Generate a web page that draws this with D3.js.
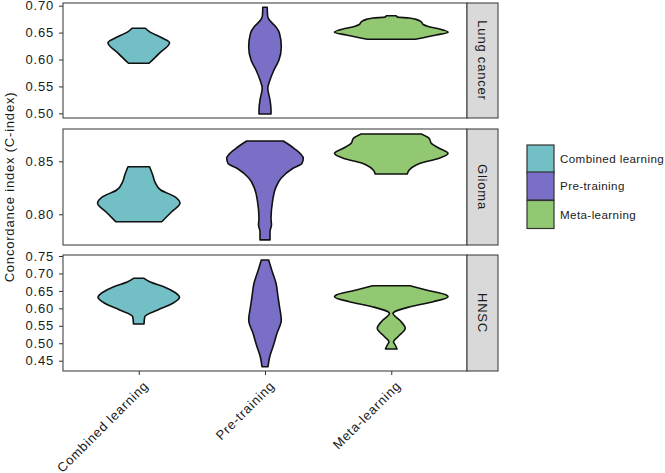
<!DOCTYPE html>
<html>
<head>
<meta charset="utf-8">
<script src="https://cdn.jsdelivr.net/npm/d3@7"></script>
<style>
  body { margin: 0; background: #fff; }
  svg text { font-family: "Liberation Sans", Arial, Helvetica, sans-serif; fill: #1a1a1a; }
</style>
</head>
<body>
<svg id="chart" width="665" height="473"></svg>
<script>
// ---------- data ----------
const methods = ["Combined learning", "Pre-training", "Meta-learning"];
const colors = ["#73bfc6", "#7a6fc6", "#93c872"];
const cancers = ["Lung cancer", "Glioma", "HNSC"];

const lungTicks = [0.50, 0.55, 0.60, 0.65, 0.70];
const gliomaTicks = [0.80, 0.85];
const hnscTicks = [0.45, 0.50, 0.55, 0.60, 0.65, 0.70, 0.75];

// violin outlines: [C-index value, relative half-width (1 = widest violin)]
const lungCombined = [[0.658,0.118],[0.6517,0.188],[0.6394,0.423],[0.6312,0.542],[0.6115,0.361],[0.593,0.181]];
const lungPre = [[0.697,0.039],[0.6827,0.044],[0.676,0.062],[0.668,0.123],[0.661,0.19],[0.6487,0.255],[0.6238,0.287],[0.599,0.246],[0.5805,0.158],[0.5619,0.088],[0.5465,0.049],[0.5247,0.088],[0.5061,0.106],[0.4987,0.106]];
const lungMeta = [[0.6814,0.088],[0.679,0.106],[0.677,0.317],[0.675,0.423],[0.670,0.528],[0.665,0.563],[0.6615,0.651],[0.658,0.792],[0.6506,1.0],[0.6455,0.792],[0.6375,0.423]];

const gliomaCombined = [[0.8449,0.19],[0.8371,0.246],[0.8308,0.282],[0.8229,0.387],[0.8166,0.634],[0.8104,0.725],[0.8022,0.574],[0.793,0.405]];
const gliomaPre = [[0.8692,0.322],[0.8623,0.511],[0.8528,0.674],[0.8481,0.651],[0.8434,0.493],[0.834,0.282],[0.8245,0.185],[0.8119,0.132],[0.7962,0.106],[0.7899,0.114],[0.7836,0.088],[0.7758,0.088]];
const gliomaMeta = [[0.8758,0.528],[0.8716,0.669],[0.867,0.704],[0.8623,0.845],[0.8575,1.0],[0.8528,0.845],[0.8481,0.511],[0.8465,0.44],[0.8418,0.317],[0.838,0.282]];

const hnscCombined = [[0.6861,0.093],[0.6764,0.194],[0.662,0.44],[0.6477,0.616],[0.6317,0.718],[0.6145,0.599],[0.5953,0.335],[0.5761,0.106],[0.5552,0.093]];
const hnscPre = [[0.7385,0.065],[0.7099,0.118],[0.6718,0.194],[0.6334,0.229],[0.6047,0.255],[0.5666,0.287],[0.5285,0.211],[0.4901,0.141],[0.4615,0.083],[0.4328,0.053]];
const hnscMeta = [[0.6649,0.329],[0.6526,0.616],[0.6383,0.968],[0.6334,1.0],[0.6191,0.739],[0.6047,0.335],[0.5904,0.058],[0.5858,0.03],[0.5666,0.146],[0.5428,0.246],[0.5188,0.118],[0.5044,0.04],[0.495,0.07],[0.4835,0.102]];

const lungDomain = [0.4913, 0.705];
const gliomaDomain = [0.771, 0.8805];
const hnscDomain = [0.4205, 0.7529];

const panelsData = [
  { name: cancers[0], domain: lungDomain, ticks: lungTicks, violins: [lungCombined, lungPre, lungMeta] },
  { name: cancers[1], domain: gliomaDomain, ticks: gliomaTicks, violins: [gliomaCombined, gliomaPre, gliomaMeta] },
  { name: cancers[2], domain: hnscDomain, ticks: hnscTicks, violins: [hnscCombined, hnscPre, hnscMeta] }
];

// ---------- layout ----------
const svg = d3.select("#chart");
const left = 63, right = 467, stripW = 31;
const panelBoxes = [[3, 118], [129, 245], [255, 371]];
const LS = "0.8px";

const x = d3.scalePoint().domain(methods).range([left, right]).padding(0.6);
const step = x.step();
const w = d3.scaleLinear().domain([0, 1]).range([0, 0.45 * step]);

panelsData.forEach((p, i) => {
  const [top, bottom] = panelBoxes[i];
  const y = d3.scaleLinear().domain(p.domain).range([bottom, top]);
  const g = svg.append("g");

  // violins
  p.violins.forEach((pts, j) => {
    const cx = x(methods[j]);
    const area = d3.area()
      .y(d => y(d[0]))
      .x0(d => cx - w(d[1]))
      .x1(d => cx + w(d[1]))
      .curve(d3.curveMonotoneY);
    g.append("path")
      .attr("d", area(pts))
      .attr("fill", colors[j])
      .attr("stroke", "#111")
      .attr("stroke-width", 1.6)
      .attr("stroke-linejoin", "round");
  });

  // panel border
  g.append("rect")
    .attr("x", left).attr("y", top)
    .attr("width", right - left).attr("height", bottom - top)
    .attr("fill", "none").attr("stroke", "#333").attr("stroke-width", 1);

  // y axis
  const yAxis = d3.axisLeft(y).tickValues(p.ticks).tickFormat(d3.format(".2f")).tickSize(4).tickPadding(5);
  const ag = g.append("g").attr("transform", `translate(${left},0)`).call(yAxis);
  ag.select(".domain").remove();
  ag.selectAll(".tick line").attr("stroke", "#333");
  ag.selectAll(".tick text")
    .attr("font-size", 13).attr("fill", "#1a1a1a")
    .style("font-family", '"Liberation Sans", Arial, sans-serif')
    .style("letter-spacing", LS);

  // strip
  g.append("rect")
    .attr("x", right).attr("y", top)
    .attr("width", stripW).attr("height", bottom - top)
    .attr("fill", "#d9d9d9").attr("stroke", "#333").attr("stroke-width", 1);
  g.append("text")
    .attr("transform", `translate(${right + stripW / 2},${(top + bottom) / 2}) rotate(90)`)
    .attr("text-anchor", "middle").attr("dy", "0.35em")
    .attr("font-size", 13).style("letter-spacing", LS)
    .text(p.name);

  // bottom axis on last panel
  if (i === panelsData.length - 1) {
    const xAxis = d3.axisBottom(x).tickSize(4).tickFormat("");
    const xg = g.append("g").attr("transform", `translate(0,${bottom})`).call(xAxis);
    xg.select(".domain").remove();
    xg.selectAll(".tick line").attr("stroke", "#333");
    methods.forEach(m => {
      g.append("text")
        .attr("transform", `translate(${x(m) + 4},${bottom + 9}) rotate(-45)`)
        .attr("text-anchor", "end").attr("dy", "0.71em")
        .attr("font-size", 13).style("letter-spacing", LS)
        .text(m);
    });
  }
});

// y title
svg.append("text")
  .attr("transform", `translate(9,${(panelBoxes[0][0] + panelBoxes[2][1]) / 2}) rotate(-90)`)
  .attr("text-anchor", "middle").attr("dy", "0.35em")
  .attr("font-size", 13).style("letter-spacing", LS)
  .text("Concordance index (C-index)");

// legend
const legY = [145, 172, 200.5];
const keyH = 28;
methods.forEach((m, j) => {
  svg.append("rect")
    .attr("x", 527).attr("y", legY[j])
    .attr("width", 27).attr("height", keyH)
    .attr("fill", colors[j]).attr("stroke", "#333").attr("stroke-width", 1.2);
  svg.append("text")
    .attr("x", 560).attr("y", legY[j] + keyH / 2)
    .attr("dy", "0.35em")
    .attr("font-size", 11.6).style("letter-spacing", "0.4px")
    .text(m);
});
</script>
</body>
</html>
